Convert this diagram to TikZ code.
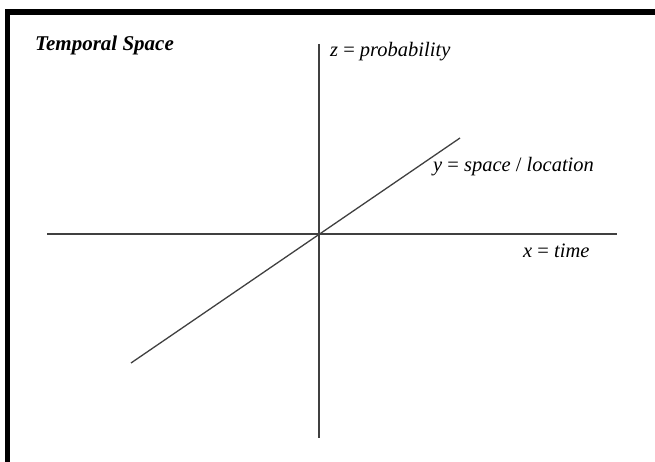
\documentclass[tikz,border=0pt]{standalone}
\usepackage{fontspec}
\setmainfont{Liberation Serif}
\begin{document}
\begin{tikzpicture}[x=1pt,y=-1pt,
  axis/.style={draw=black!75,line width=1.3pt},
  lab/.style={inner sep=0pt,anchor=west,font=\fontsize{20.5}{24}\selectfont\itshape},
  frame/.style={fill=black}]
\useasboundingbox (0,0) rectangle (655,462);
% frame bands
\fill[frame] (5,9) rectangle (655,15);
\fill[frame] (5,9) rectangle (10,462);
% coordinates
\coordinate (o) at (319,234);
\coordinate (xl) at (47,234);
\coordinate (xr) at (617,234);
\coordinate (zt) at (319,44);
\coordinate (zb) at (319,438);
\coordinate (yl) at (131,363);
\coordinate (yr) at (460,138);
\draw[axis] (xl) -- (xr);
\draw[axis] (zt) -- (zb);
\draw[axis] (yl) -- (yr);
% labels
\node[lab,font=\fontsize{21}{25}\selectfont\bfseries\itshape] (title) at (35,45) {Temporal Space};
\node[lab] (zlab) at (330,52) {z {\upshape=} probability};
\node[lab] (ylab) at (433,167) {y {\upshape=} space {\upshape/} location};
\node[lab] (xlab) at (523,251) {x {\upshape=} time};
\end{tikzpicture}
\end{document}
